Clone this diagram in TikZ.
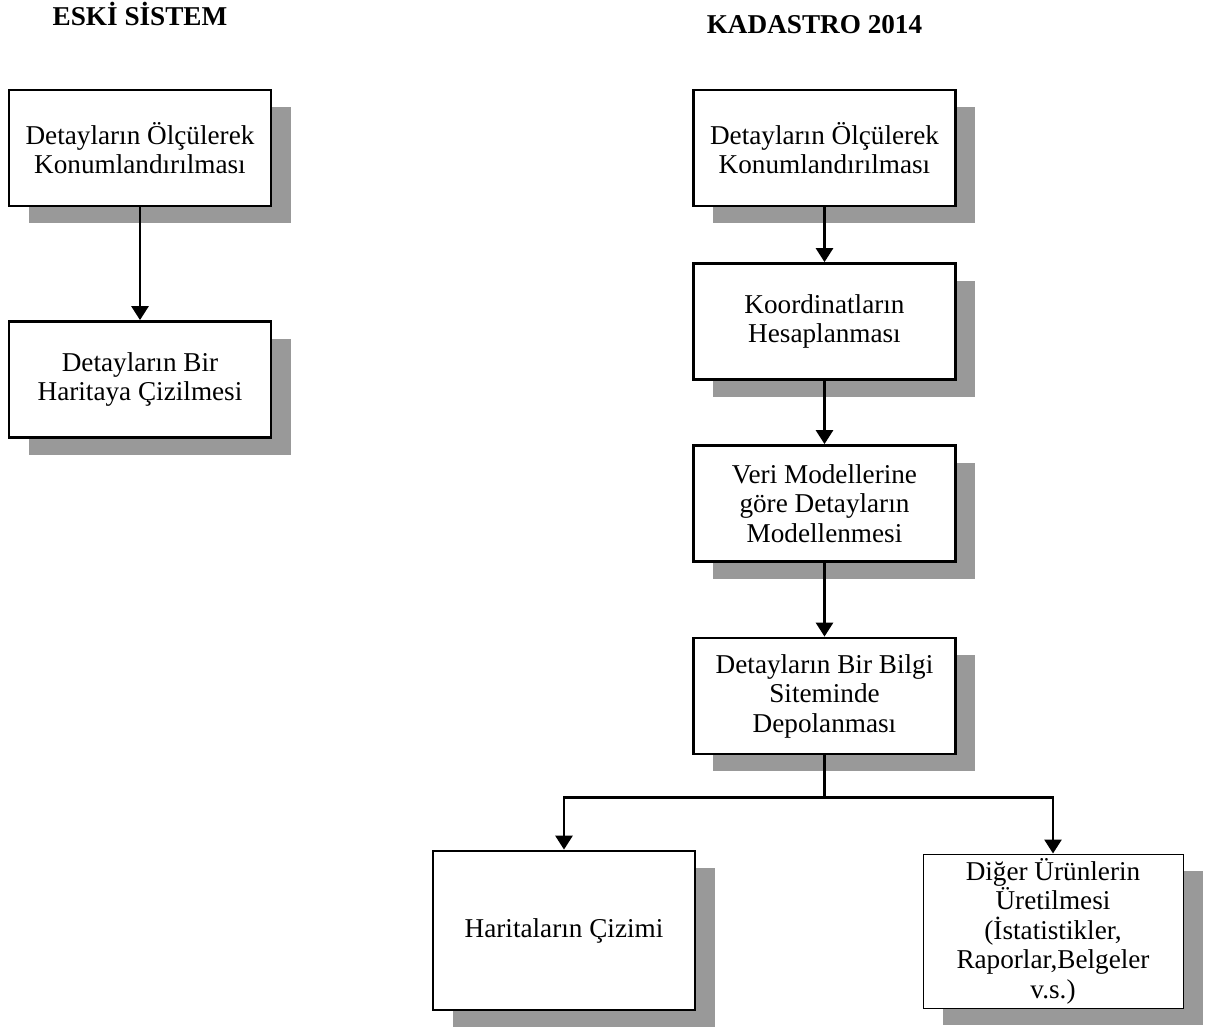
\documentclass[tikz,border=0pt]{standalone}
\usepackage{fontspec}
\setmainfont{Liberation Serif}
\usepackage{tikz}
\usetikzlibrary{positioning, arrows.meta, shadows}

\tikzset{
	kutu/.style={draw, line width=1.4pt, fill=white, align=center, inner sep=2pt,
		minimum width=131pt, minimum height=58pt,
		font=\fontsize{13.6}{14.75}\selectfont,
		drop shadow={shadow xshift=9.75pt, shadow yshift=-8.5pt, fill=black!40, opacity=1}},
	baslik/.style={anchor=base, font=\fontsize{13.6}{16}\selectfont\bfseries},
	hat/.style={line width=1.4pt},
	ok/.style={hat, -{Triangle[width=8.5pt, length=7pt]}},
}

\begin{document}
\begin{tikzpicture}[x=0.5pt, y=-0.5pt, on grid]
	\useasboundingbox (0,0) rectangle (1211,1030);
	
	\node[baslik] (eski) at (140,25) {ESKİ SİSTEM};
	\node[baslik] (yeni) at (814.5,33) {KADASTRO 2014};
	
	% eski sistem
	\node[kutu] (l_1) at (140,148) {Detayların Ölçülerek\\Konumlandırılması};
	\node[kutu] (l_2) [below=115.75pt of l_1] {Detayların Bir\\Haritaya Çizilmesi};
	
	% kadastro 2014
	\node[kutu] (r_1) at (824.5,148) {Detayların Ölçülerek\\Konumlandırılması};
	\node[kutu] (r_2) [below=86.75pt of r_1] {Koordinatların\\Hesaplanması};
	\node[kutu] (r_3) [below=91pt of r_2] {Veri Modellerine\\göre Detayların\\Modellenmesi};
	\node[kutu] (r_4) [below=96.25pt of r_3] {Detayların Bir Bilgi\\Siteminde\\Depolanması};
	\node[kutu, minimum height=79.5pt] (b_1) at (564,930.5) {Haritaların Çizimi};
	\node[kutu, line width=0.5pt, minimum width=130pt, minimum height=77pt] (b_2) at (1053,931)
		{Diğer Ürünlerin\\Üretilmesi\\(İstatistikler,\\Raporlar,Belgeler\\v.s.)};
	\coordinate (ayrim) at (824.5,797.5);
	
	\draw[ok] (l_1) -- (l_2);
	\draw[ok] (r_1) -- (r_2);
	\draw[ok] (r_2) -- (r_3);
	\draw[ok] (r_3) -- (r_4);
	\draw[hat] (r_4) -- (ayrim);
	\draw[ok] (ayrim) -| (b_1);
	\draw[ok] (ayrim) -| (b_2);
\end{tikzpicture}
\end{document}
